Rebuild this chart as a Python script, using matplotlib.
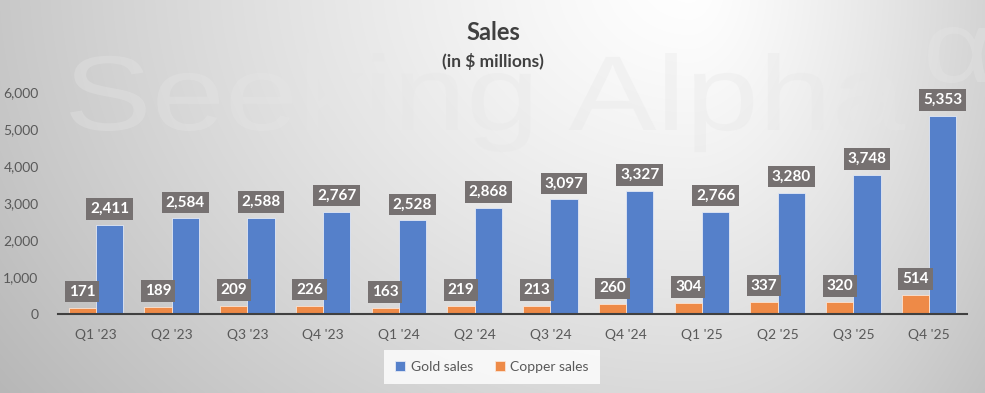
import numpy as np
from matplotlib import pyplot as plt
from matplotlib.textpath import TextPath
from matplotlib.font_manager import FontProperties
from matplotlib.patches import PathPatch
from matplotlib.transforms import Affine2D

quarters = ["Q1 '23", "Q2 '23", "Q3 '23", "Q4 '23", "Q1 '24", "Q2 '24",
            "Q3 '24", "Q4 '24", "Q1 '25", "Q2 '25", "Q3 '25", "Q4 '25"]
gold_sales = [2411, 2584, 2588, 2767, 2528, 2868, 3097, 3327, 2766, 3280, 3748, 5353]
copper_sales = [171, 189, 209, 226, 163, 219, 213, 260, 304, 337, 320, 514]
yticks = [0, 1000, 2000, 3000, 4000, 5000, 6000]

plt.rcParams['font.family'] = ['Lato', 'DejaVu Sans']

W, H = 985, 393
fig = plt.figure(figsize=(W / 100, H / 100), dpi=100)

# background gradient + watermark
bg = fig.add_axes([0, 0, 1, 1], zorder=-1)
xx, yy = np.meshgrid(np.arange(W) + 0.5, np.arange(H) + 0.5)
cx, cy = 690, -20
rx = np.where(xx < cx, 760, 400)
t = np.sqrt(((xx - cx) / rx) ** 2 + ((yy - cy) / 620) ** 2)
t = np.clip(t, 0, 1.15)
g = (255 - 62 * t ** 1.25) / 255
bg.imshow(np.dstack([g, g, g]), extent=(0, W, H, 0), aspect='auto', interpolation='bilinear')
bg.set_xlim(0, W)
bg.set_ylim(H, 0)
bg.axis('off')

wm_font = FontProperties(family='Liberation Sans')
wm = TextPath((0, 0), "Seeking Alpha", size=1, prop=wm_font)
ext = wm.get_extents()
sx = 835 / ext.width
sy = 77 / ext.y1
tr = Affine2D().translate(-ext.x0, 0).scale(sx, -sy).translate(70, 130)
bg.add_patch(PathPatch(tr.transform_path(wm), fc=(0.9, 0.9, 0.9, 0.35), ec='none'))
al = TextPath((0, 0), "α", size=1, prop=wm_font)
ea = al.get_extents()
tr2 = Affine2D().translate(-ea.x0, -ea.y0).scale(62 / ea.width, -56 / ea.height).translate(928, 83)
bg.add_patch(PathPatch(tr2.transform_path(al), fc=(0.9, 0.9, 0.9, 0.35), ec='none'))

# main chart
ax = fig.add_axes([58 / W, 1 - 314 / H, 909 / W, 222 / H])
ax.patch.set_alpha(0)
x = np.arange(len(quarters))
w = 0.36
b1 = ax.bar(x + w / 2, gold_sales, w, color='#5580CA', edgecolor='#e2e8f5', linewidth=0.6, label='Gold sales')
b2 = ax.bar(x - w / 2, copper_sales, w, color='#EE8A47', edgecolor='#fbe3d3', linewidth=0.6, label='Copper sales')

for bars in (b1, b2):
    for r in bars:
        v = r.get_height()
        ax.annotate(f"{int(v):,}", (r.get_x() + r.get_width() / 2, v), xytext=(0, 6.5),
                    textcoords='offset points', ha='center', va='bottom',
                    fontsize=11, fontweight='bold', color='white',
                    bbox=dict(boxstyle='square,pad=0.25', fc='#767171', ec='none'))

ax.set_xlim(-0.5, len(quarters) - 0.5)
ax.set_ylim(0, 6000)
ax.set_yticks(yticks, [f"{v:,}" for v in yticks])
ax.set_xticks(x, quarters)
ax.tick_params(axis='both', length=0, labelsize=10, labelcolor='#595959')
ax.tick_params(axis='y', pad=14)
ax.tick_params(axis='x', pad=11)
for s in ['top', 'right', 'left']:
    ax.spines[s].set_visible(False)
ax.spines['bottom'].set_color('#404040')
ax.spines['bottom'].set_linewidth(1.5)

fig.text(493 / W, 1 - 33 / H, "Sales", ha='center', va='center', fontsize=17,
         fontweight='bold', color='#404040')
fig.text(493 / W, 1 - 61 / H, "(in $ millions)", ha='center', va='center', fontsize=12.5,
         fontweight='bold', color='#404040')

leg = ax.legend(handles=[b1, b2], loc='center', bbox_to_anchor=(492 / W, 1 - 367 / H),
                bbox_transform=fig.transFigure, ncol=2, frameon=True, fontsize=10,
                handlelength=0.7, handleheight=0.7, handletextpad=0.4, columnspacing=1.6,
                borderpad=0.5)
leg.get_frame().set_facecolor((1, 1, 1, 0.25))
leg.get_frame().set_edgecolor('none')
leg.get_frame().set_boxstyle('square')
for txt in leg.get_texts():
    txt.set_color('#595959')

fig.savefig('out.png', dpi=100)
